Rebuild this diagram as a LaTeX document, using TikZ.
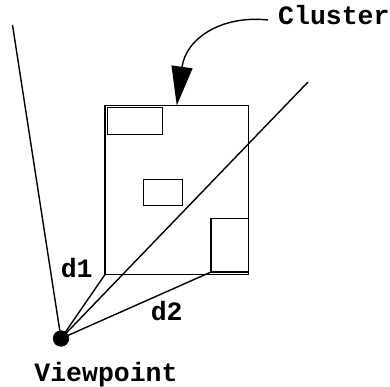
\documentclass[tikz,border=0pt]{standalone}
\usepackage{fontspec}
\setmonofont{Liberation Mono}
\usetikzlibrary{arrows.meta}
\begin{document}
\begin{tikzpicture}[x=1pt,y=-1pt,
  edge/.style={line width=1.4pt},
  box/.style={draw,line width=1.4pt,inner sep=0pt,outer sep=0pt},
  lbl/.style={inner sep=0pt,font=\fontsize{26.5}{31}\selectfont\ttfamily\bfseries},
  vpdot/.style={circle,fill=black,inner sep=0pt,minimum size=16pt}]
\useasboundingbox (0,0) rectangle (390,387);

% the cluster and the objects inside it
\node[box,minimum width=143.5pt,minimum height=169pt] (cluster) at (176.75,190) {};
\node[box,minimum width=55pt,minimum height=27pt] (obja) at (135,121) {};
\node[box,minimum width=38.5pt,minimum height=25.5pt] (objb) at (163,192.5) {};
\node[box,minimum width=37.5pt,minimum height=53.5pt] (objc) at (229.75,245.25) {};

% viewpoint and the view frustum
\node[vpdot] (vp) at (61,338.5) {};
\coordinate (fl) at (12.5,25);
\coordinate (fr) at (308,82);
\draw[edge] (vp.center) -- (fl);
\draw[edge] (vp.center) -- (fr);
\draw[edge] (vp.center) -- (cluster.south west);
\draw[edge] (vp.center) -- (objc.south west);
\node[vpdot] at (vp) {};

% labels
\node[lbl,anchor=base west] (cl) at (278,25) {Cluster};
\node[lbl,anchor=base] (d1) at (76.7,277) {d1};
\node[lbl,anchor=base] (d2) at (166.7,320) {d2};
\node[lbl,anchor=base] (vpl) at (106,381) {Viewpoint};

% pointer from the cluster label to the cluster
\coordinate (cs) at (268,20);
\draw[edge,-{Triangle[length=39pt,width=21pt]}] (cs) .. controls (222,15) and (186,38) .. (cluster.north);
\end{tikzpicture}
\end{document}
